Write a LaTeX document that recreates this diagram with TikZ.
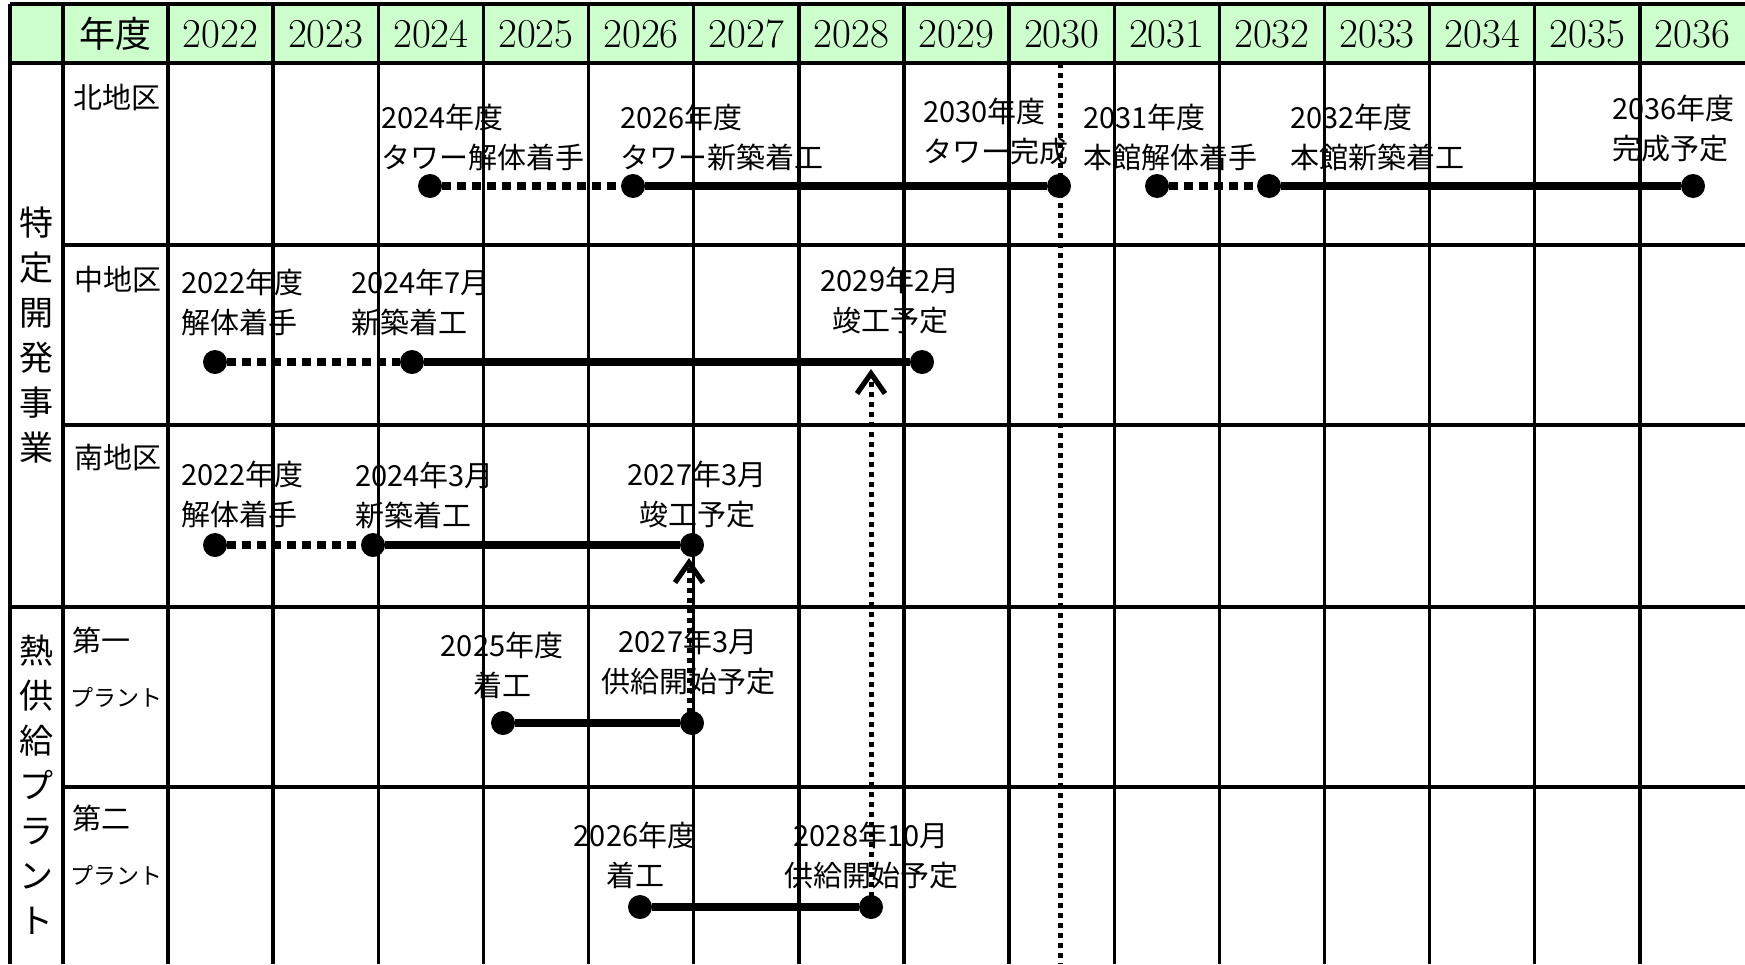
\documentclass[tikz,border=0pt]{standalone}
\usepackage{fontspec}
\newfontfamily\jp{Noto Sans CJK JP}
\usetikzlibrary{arrows.meta}
\definecolor{hdrgreen}{RGB}{204,255,204}
\pgfdeclarelayer{gridlayer}
\pgfdeclarelayer{linelayer}
\pgfsetlayers{gridlayer,linelayer,main}
\begin{document}
\begin{tikzpicture}[x=0.5pt,y=-0.5pt,
  gridline/.style={line width=1.7pt},
  outerline/.style={line width=2.2pt},
  hdr/.style={font=\fontsize{20.5}{24}\selectfont, inner sep=0},
  hdrjp/.style={font=\jp\fontsize{18}{22}\selectfont, inner sep=0},
  lbl/.style={font=\jp\fontsize{14.5}{20}\selectfont, inner sep=0, align=left},
  lblc/.style={font=\jp\fontsize{14.5}{20}\selectfont, inner sep=0, align=center},
  plant/.style={font=\jp\fontsize{11.5}{14}\selectfont, inner sep=0},
  bigv/.style={font=\jp\fontsize{17}{22.5}\selectfont, inner sep=0, align=center},
  evdot/.style={circle, fill=black, minimum size=12pt, inner sep=0},
  solidbar/.style={line width=4pt},
  dashbar/.style={line width=4pt, dash pattern=on 4.5pt off 3pt},
  vdots/.style={line width=2.5pt, dash pattern=on 2.5pt off 2.5pt},
  arr/.style={vdots, -{Straight Barb[length=10pt,width=14pt,line width=2.6pt]}}
]
\useasboundingbox (0,0) rectangle (1745,964);

% ---------- grid ----------
\begin{pgfonlayer}{gridlayer}
\fill[hdrgreen] (10,4) rectangle (1745,63);
\draw[outerline] (10,4) -- (1745,4);
\draw[outerline] (10,4) -- (10,964);
\draw[gridline] (10,63) -- (1745,63);
\draw[gridline] (63,4) -- (63,964);
\foreach \k in {0,...,14} \draw[gridline] ({168+\k*105.133},4) -- ({168+\k*105.133},964);
\draw[gridline] (63,245) -- (1745,245);
\draw[gridline] (63,425) -- (1745,425);
\draw[gridline] (10,607) -- (1745,607);
\draw[gridline] (63,787) -- (1745,787);
\end{pgfonlayer}

% ---------- header ----------
\node[hdrjp] (hnendo) at (115.5,34) {年度};
\foreach \k [evaluate=\k as \yr using int(2022+\k)] in {0,...,14}
  \node[hdr] (y\k) at ({168+(\k+0.5)*105.133},34) {\yr};

% ---------- left labels ----------
\node[bigv] (L1) at (36,335) {特\\定\\開\\発\\事\\業};
\node[bigv] (L2) at (36,785) {熱\\供\\給\\プ\\ラ\\ン\\ト};
\node[lbl, anchor=west] (r1) at (73,98) {北地区};
\node[lbl, anchor=west] (r2) at (74,280) {中地区};
\node[lbl, anchor=west] (r3) at (74,458) {南地区};
\node[lbl, anchor=west] (r4) at (72,640) {第一};
\node[plant, anchor=west] (r4b) at (70,697) {プラント};
\node[lbl, anchor=west] (r5) at (72,818) {第二};
\node[plant, anchor=west] (r5b) at (70,875) {プラント};

% ---------- event labels ----------
\node[lbl, anchor=west] (tn1) at (381,137) {2024年度\\タワー解体着手};
\node[lbl, anchor=west] (tn2) at (620,137) {2026年度\\タワー新築着工};
\node[lbl, anchor=west] (tn3) at (923,132) {2030年度\\タワー完成};
\node[lbl, anchor=west] (tn4) at (1083,137) {2031年度\\本館解体着手};
\node[lbl, anchor=west] (tn5) at (1290,137) {2032年度\\本館新築着工};
\node[lbl, anchor=west] (tn6) at (1612,129) {2036年度\\完成予定};

\node[lbl, anchor=west] (tm1) at (181,302) {2022年度\\解体着手};
\node[lbl, anchor=west] (tm2) at (351,302) {2024年7月\\新築着工};
\node[lblc] (tm3) at (890,301) {2029年2月\\竣工予定};

\node[lbl, anchor=west] (ts1) at (181,494) {2022年度\\解体着手};
\node[lbl, anchor=west] (ts2) at (355,495) {2024年3月\\新築着工};
\node[lblc] (ts3) at (697,495) {2027年3月\\竣工予定};

\node[lblc] (tp1) at (502,665) {2025年度\\着工};
\node[lblc] (tp2) at (688,661) {2027年3月\\供給開始予定};

\node[lblc] (tq1) at (635,855) {2026年度\\着工};
\node[lblc] (tq2) at (871,855) {2028年10月\\供給開始予定};

% ---------- dots ----------
\node[evdot] (n1) at (430,186) {};
\node[evdot] (n2) at (633,186) {};
\node[evdot] (n3) at (1059,186) {};
\node[evdot] (n4) at (1157,186) {};
\node[evdot] (n5) at (1269,186) {};
\node[evdot] (n6) at (1693,186) {};
\node[evdot] (m1) at (215,362) {};
\node[evdot] (m2) at (412,362) {};
\node[evdot] (m3) at (922,362) {};
\node[evdot] (s1) at (215,545) {};
\node[evdot] (s2) at (373,545) {};
\node[evdot] (s3) at (692,545) {};
\node[evdot] (p1) at (503,723) {};
\node[evdot] (p2) at (692,723) {};
\node[evdot] (q1) at (640,907) {};
\node[evdot] (q2) at (871,907) {};

\coordinate (vt) at (1060,63);
\coordinate (vb) at (1060,964);
\coordinate (a1tip) at (689,558);
\coordinate (a2tip) at (871,369);

% ---------- connectors ----------
\begin{pgfonlayer}{linelayer}
\draw[dashbar] (n1) -- (n2);
\draw[solidbar] (n2) -- (n3);
\draw[dashbar] (n4) -- (n5);
\draw[solidbar] (n5) -- (n6);
\draw[dashbar] (m1) -- (m2);
\draw[solidbar] (m2) -- (m3);
\draw[dashbar] (s1) -- (s2);
\draw[solidbar] (s2) -- (s3);
\draw[solidbar] (p1) -- (p2);
\draw[solidbar] (q1) -- (q2);
\draw[vdots] (vt) -- (vb);
\draw[arr] (p2.center -| a1tip) -- (a1tip);
\draw[arr] (q2.center) -- (a2tip);
\end{pgfonlayer}
\end{tikzpicture}
\end{document}
